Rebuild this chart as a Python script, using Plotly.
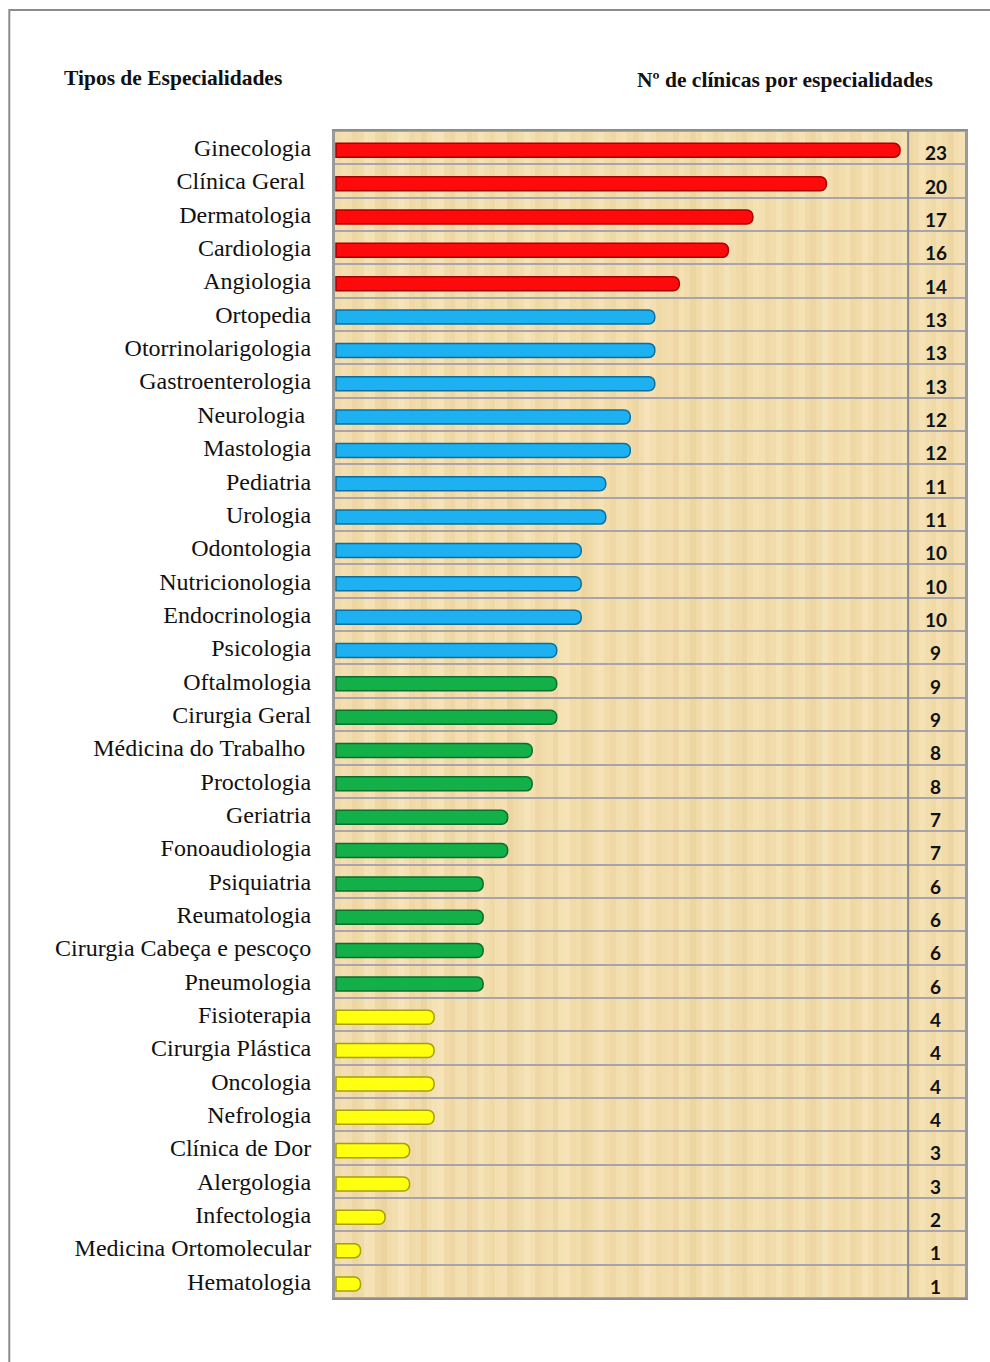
import plotly.graph_objects as go

# Especialidades (de cima para baixo) e número de clínicas
especialidades = [
    "Ginecologia", "Clínica Geral\u00a0", "Dermatologia", "Cardiologia", "Angiologia",
    "Ortopedia", "Otorrinolarigologia", "Gastroenterologia", "Neurologia\u00a0", "Mastologia",
    "Pediatria", "Urologia", "Odontologia", "Nutricionologia", "Endocrinologia",
    "Psicologia", "Oftalmologia", "Cirurgia Geral", "Médicina do Trabalho\u00a0", "Proctologia",
    "Geriatria", "Fonoaudiologia", "Psiquiatria", "Reumatologia", "Cirurgia Cabeça e pescoço",
    "Pneumologia", "Fisioterapia", "Cirurgia Plástica", "Oncologia", "Nefrologia",
    "Clínica de Dor", "Alergologia", "Infectologia", "Medicina Ortomolecular", "Hematologia",
]
clinicas = [
    23, 20, 17, 16, 14,
    13, 13, 13, 12, 12,
    11, 11, 10, 10, 10,
    9, 9, 9, 8, 8,
    7, 7, 6, 6, 6,
    6, 4, 4, 4, 4,
    3, 3, 2, 1, 1,
]
faixa = ["A"] * 5 + ["B"] * 11 + ["C"] * 10 + ["D"] * 9

# Cores de cada faixa: (preenchimento, contorno)
cores_faixa = {
    "A": ("#FF0A0A", "#A80000"),
    "B": ("#1DB1F2", "#0A6F9E"),
    "C": ("#13B04A", "#0B6E2C"),
    "D": ("#FFFF10", "#A6A000"),
}
cor_barra = [cores_faixa[f][0] for f in faixa]
cor_borda = [cores_faixa[f][1] for f in faixa]

# Tons do veio da madeira no fundo (0 = escuro, 1 = claro)
veio = [
    0.55, 0.70, 0.62, 0.40, 0.50, 0.80, 0.75, 0.45, 0.30, 0.52, 0.66, 0.90, 0.72, 0.48,
    0.58, 0.35, 0.60, 0.78, 0.85, 0.50, 0.42, 0.65, 0.70, 0.38, 0.55, 0.82, 0.60, 0.47,
    0.68, 0.74, 0.33, 0.50, 0.62, 0.88, 0.70, 0.45, 0.57, 0.64, 0.40, 0.76, 0.83, 0.52,
    0.60, 0.36, 0.49, 0.71, 0.80, 0.58, 0.44, 0.66, 0.73, 0.50, 0.39, 0.61, 0.86, 0.69,
    0.47, 0.55, 0.63, 0.41, 0.72, 0.58, 0.35, 0.52, 0.79, 0.67, 0.43, 0.56, 0.84, 0.62,
    0.49, 0.37, 0.60, 0.75, 0.68, 0.46, 0.54, 0.81, 0.59, 0.42, 0.64, 0.77, 0.51, 0.38,
    0.57, 0.87, 0.66, 0.48, 0.61, 0.73, 0.44, 0.53, 0.80, 0.65, 0.40, 0.58, 0.71, 0.50,
    0.62, 0.76, 0.45, 0.55, 0.83, 0.60, 0.47, 0.69, 0.52, 0.39, 0.64, 0.78,
]

X_MIN, X_MAX = -0.04, 25.65
COL_VALOR = 23.33          # início da coluna de valores
X_TEXTO = 24.45            # centro da coluna de valores

n = len(veio)
passo = (X_MAX - X_MIN) / n
x_veio = [X_MIN + passo * (i + 0.5) for i in range(n)]

fig = go.Figure()

# Fundo de madeira; os intervalos entre as linhas formam a grade horizontal
fig.add_trace(go.Heatmap(
    x=x_veio, y=especialidades, z=[veio] * len(especialidades),
    colorscale=[[0, "#E5CA94"], [0.5, "#F0DAA8"], [1, "#F8E7BF"]],
    zmin=0, zmax=1, showscale=False, ygap=2, hoverinfo="skip",
))

fig.add_trace(go.Bar(
    x=clinicas, y=especialidades, orientation="h",
    width=0.42, offset=-0.13,
    marker=dict(color=cor_barra, line=dict(color=cor_borda, width=1.5), cornerradius=6),
    hoverinfo="x+y",
))

serif = "Liberation Serif, Times New Roman, serif"

# Valores na coluna da direita
anotacoes = [
    dict(x=X_TEXTO, y=esp, xref="x", yref="y", text=str(v), showarrow=False,
         xanchor="center", yanchor="middle", yshift=-5,
         font=dict(family="Lato, Open Sans, sans-serif", size=19, color="#111111", weight="bold"))
    for esp, v in zip(especialidades, clinicas)
]
anotacoes += [
    dict(text="<b>Tipos de Especialidades</b>", xref="paper", yref="paper", x=-0.4333, y=1.0454,
         xanchor="left", yanchor="middle", showarrow=False,
         font=dict(family=serif, size=21.5, color="#111111")),
    dict(text="<b>Nº de clínicas por especialidades</b>", xref="paper", yref="paper", x=0.476, y=1.0437,
         xanchor="left", yanchor="middle", showarrow=False,
         font=dict(family=serif, size=21.5, color="#111111")),
]

fig.update_layout(
    width=990, height=1362,
    margin=dict(l=335, r=25, t=131, b=64),
    paper_bgcolor="white",
    plot_bgcolor="#A9A4AC",
    showlegend=False,
    barmode="overlay",
    xaxis=dict(range=[X_MIN, X_MAX], showgrid=False, zeroline=False, showticklabels=False,
               showline=True, linecolor="#8E8E8E", linewidth=2, mirror=True),
    yaxis=dict(type="category", range=[len(especialidades) - 0.5, -0.5],
               showgrid=False, zeroline=False,
               ticks="", ticklabelstandoff=16,
               tickfont=dict(family=serif, size=24, color="#111111"),
               showline=True, linecolor="#9A9A9A", linewidth=3, mirror=True),
    shapes=[
        # separação da coluna de valores
        dict(type="line", xref="x", yref="paper", x0=COL_VALOR, x1=COL_VALOR, y0=0, y1=1,
             line=dict(color="#8A8A8A", width=2), layer="above"),
        # moldura da página
        dict(type="rect", xref="paper", yref="paper", x0=-0.517, x1=1.2, y0=-0.2, y1=1.1037,
             line=dict(color="#8C8C8C", width=2), fillcolor="rgba(0,0,0,0)"),
    ],
    annotations=anotacoes,
)

fig.write_html("out.html")
